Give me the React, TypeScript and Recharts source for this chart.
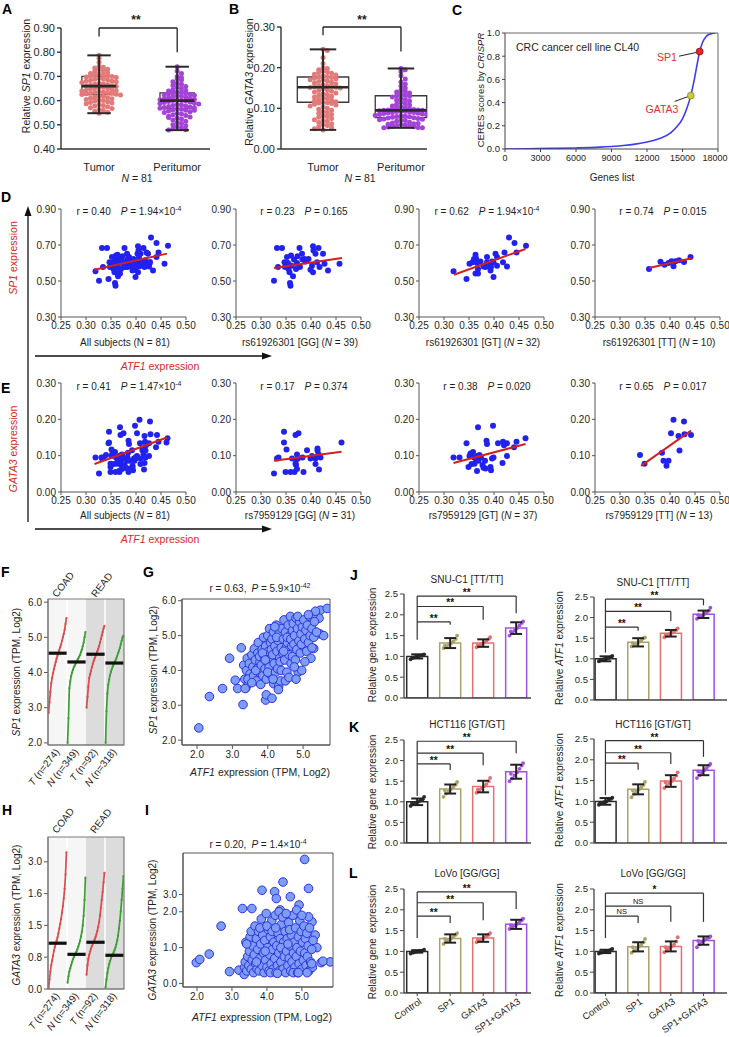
import React from 'react';
import {
  ScatterChart, Scatter, ComposedChart, Bar, Cell, LineChart, Line,
  XAxis, YAxis, ReferenceLine, ReferenceArea, ReferenceDot,
} from 'recharts';

const FONT = '"Liberation Sans", Arial, Helvetica, sans-serif';
const INK = '#1e1e1e';
const RED = '#d42a2a';

// ---------- A / B : relative expression, tumor vs peritumor (N = 81) ----------
const A_TUMOR = [
  0.787, 0.775, 0.758, 0.742, 0.738, 0.735, 0.73, 0.728, 0.722, 0.72,
  0.715, 0.712, 0.71, 0.706, 0.705, 0.703, 0.7, 0.7, 0.698, 0.695,
  0.692, 0.69, 0.688, 0.685, 0.683, 0.68, 0.68, 0.678, 0.675, 0.672,
  0.67, 0.668, 0.665, 0.663, 0.66, 0.66, 0.658, 0.656, 0.655, 0.652,
  0.65, 0.648, 0.645, 0.643, 0.64, 0.64, 0.638, 0.636, 0.634, 0.632,
  0.63, 0.63, 0.628, 0.626, 0.625, 0.623, 0.62, 0.618, 0.615, 0.612,
  0.61, 0.608, 0.605, 0.602, 0.6, 0.598, 0.595, 0.592, 0.59, 0.587,
  0.584, 0.58, 0.578, 0.575, 0.57, 0.567, 0.563, 0.56, 0.556, 0.552, 0.548,
];
const A_PERI = [
  0.74, 0.722, 0.712, 0.7, 0.695, 0.69, 0.685, 0.678, 0.672, 0.668,
  0.662, 0.658, 0.655, 0.65, 0.645, 0.642, 0.64, 0.636, 0.634, 0.632,
  0.63, 0.628, 0.626, 0.624, 0.622, 0.62, 0.618, 0.616, 0.614, 0.612,
  0.61, 0.608, 0.606, 0.604, 0.602, 0.6, 0.6, 0.598, 0.596, 0.594,
  0.592, 0.59, 0.588, 0.586, 0.584, 0.582, 0.58, 0.578, 0.576, 0.574,
  0.572, 0.57, 0.568, 0.566, 0.564, 0.562, 0.56, 0.557, 0.554, 0.551,
  0.548, 0.545, 0.542, 0.538, 0.535, 0.532, 0.528, 0.524, 0.52, 0.515,
  0.51, 0.505, 0.5, 0.496, 0.492, 0.488, 0.484, 0.48, 0.478, 0.53, 0.56,
];
const B_TUMOR = [
  0.245, 0.242, 0.225, 0.21, 0.2, 0.198, 0.195, 0.192, 0.19, 0.188,
  0.186, 0.184, 0.182, 0.18, 0.178, 0.177, 0.176, 0.174, 0.172, 0.17,
  0.168, 0.166, 0.164, 0.162, 0.16, 0.158, 0.156, 0.155, 0.154, 0.153,
  0.152, 0.151, 0.15, 0.148, 0.146, 0.144, 0.142, 0.14, 0.138, 0.136,
  0.134, 0.132, 0.13, 0.128, 0.126, 0.124, 0.122, 0.12, 0.118, 0.116,
  0.115, 0.114, 0.113, 0.112, 0.11, 0.108, 0.106, 0.104, 0.1, 0.098,
  0.095, 0.092, 0.09, 0.088, 0.085, 0.082, 0.08, 0.078, 0.075, 0.072,
  0.07, 0.068, 0.065, 0.062, 0.06, 0.058, 0.055, 0.052, 0.05, 0.047, 0.17,
];
const B_PERI = [
  0.198, 0.195, 0.19, 0.18, 0.172, 0.165, 0.16, 0.155, 0.15, 0.145,
  0.142, 0.14, 0.138, 0.135, 0.133, 0.131, 0.13, 0.128, 0.125, 0.122,
  0.12, 0.118, 0.115, 0.112, 0.11, 0.108, 0.106, 0.104, 0.102, 0.1,
  0.099, 0.098, 0.097, 0.096, 0.096, 0.095, 0.095, 0.094, 0.094, 0.093,
  0.093, 0.092, 0.091, 0.09, 0.09, 0.089, 0.088, 0.087, 0.086, 0.085,
  0.084, 0.083, 0.082, 0.081, 0.08, 0.079, 0.078, 0.077, 0.076, 0.075,
  0.074, 0.073, 0.072, 0.071, 0.07, 0.068, 0.066, 0.064, 0.062, 0.06,
  0.059, 0.058, 0.057, 0.056, 0.055, 0.054, 0.053, 0.052, 0.052, 0.061, 0.063,
];
// min, q1, median, q3, max
const A_STATS = [[0.548, 0.625, 0.66, 0.7, 0.787], [0.478, 0.567, 0.6, 0.632, 0.74]];
const B_STATS = [[0.047, 0.115, 0.152, 0.177, 0.245], [0.052, 0.077, 0.095, 0.131, 0.198]];
const GROUP_NAMES = ['Tumor', 'Peritumor'];

// ---------- C : CERES score curve ----------
const C_RANK = [0, 2000, 4000, 6000, 8000, 9000, 10000, 11000, 12000, 13000, 14000, 14500, 15000, 15400, 15700, 16000, 16200, 16450, 16700, 17000, 17300, 17600, 17800];
const C_SCORE = [0, 0.002, 0.005, 0.009, 0.016, 0.022, 0.03, 0.042, 0.06, 0.088, 0.14, 0.19, 0.26, 0.36, 0.46, 0.6, 0.71, 0.84, 0.92, 0.97, 0.99, 0.998, 1.0];
const C_TICKS = [0, 3000, 6000, 9000, 12000, 15000, 18000];
const C_SP1 = [16450, 0.84];
const C_GATA3 = [15700, 0.46];

// ---------- D : SP1 vs ATF1 by rs61926301 genotype ----------
const D_GG = [
  [0.326, 0.502], [0.332, 0.683], [0.342, 0.683], [0.348, 0.578], [0.352, 0.633], [0.354, 0.6], [0.355, 0.567], [0.357, 0.548],
  [0.358, 0.489], [0.359, 0.474], [0.361, 0.585], [0.364, 0.526], [0.366, 0.619], [0.37, 0.567], [0.372, 0.6], [0.373, 0.637],
  [0.377, 0.683], [0.383, 0.619], [0.387, 0.622], [0.389, 0.609], [0.402, 0.585], [0.404, 0.548], [0.405, 0.67], [0.409, 0.652],
  [0.412, 0.604], [0.415, 0.683], [0.417, 0.578], [0.424, 0.652], [0.427, 0.596], [0.434, 0.559], [0.457, 0.596], [0.347, 0.604],
  [0.334, 0.578], [0.378, 0.578], [0.395, 0.622], [0.382, 0.652], [0.36, 0.641], [0.399, 0.563], [0.404, 0.693],
];
const D_GT = [
  [0.319, 0.554], [0.345, 0.511], [0.351, 0.596], [0.357, 0.604], [0.36, 0.622], [0.363, 0.646], [0.364, 0.627], [0.366, 0.6],
  [0.363, 0.541], [0.368, 0.541], [0.368, 0.567], [0.386, 0.633], [0.386, 0.604], [0.379, 0.581], [0.383, 0.578], [0.389, 0.585],
  [0.393, 0.559], [0.394, 0.578], [0.399, 0.604], [0.399, 0.522], [0.403, 0.652], [0.406, 0.633], [0.406, 0.585], [0.418, 0.604],
  [0.421, 0.659], [0.426, 0.581], [0.43, 0.741], [0.441, 0.711], [0.445, 0.659], [0.464, 0.696], [0.396, 0.609], [0.373, 0.609],
];
const D_TT = [
  [0.358, 0.567], [0.381, 0.607], [0.389, 0.59], [0.397, 0.6], [0.403, 0.61], [0.407, 0.582], [0.411, 0.61], [0.418, 0.615], [0.428, 0.606], [0.441, 0.633],
];
const D_FIT = [[0.317, 0.563, 0.462, 0.652], [0.326, 0.572, 0.462, 0.628], [0.32, 0.535, 0.463, 0.678], [0.358, 0.572, 0.443, 0.626]];
const D_R = ['0.40', '0.23', '0.62', '0.74'];
const D_P = [['1.94×10', '-4'], ['0.165', ''], ['1.94×10', '-4'], ['0.015', '']];
const D_SUB = ['All subjects', 'rs61926301 [GG]', 'rs61926301 [GT]', 'rs61926301 [TT]'];
const D_N = [81, 39, 32, 10];

// ---------- E : GATA3 vs ATF1 by rs7959129 genotype ----------
const E_GG = [
  [0.326, 0.051], [0.332, 0.092], [0.335, 0.095], [0.346, 0.166], [0.346, 0.136], [0.351, 0.117], [0.349, 0.055], [0.362, 0.092],
  [0.359, 0.055], [0.367, 0.055], [0.369, 0.157], [0.375, 0.162], [0.372, 0.103], [0.37, 0.088], [0.37, 0.074], [0.372, 0.063],
  [0.385, 0.055], [0.392, 0.115], [0.399, 0.092], [0.413, 0.12], [0.413, 0.114], [0.415, 0.104], [0.409, 0.092], [0.409, 0.077],
  [0.416, 0.062], [0.419, 0.095], [0.461, 0.136], [0.369, 0.078], [0.383, 0.095], [0.374, 0.092], [0.402, 0.099],
];
const E_GT = [
  [0.319, 0.095], [0.331, 0.095], [0.345, 0.134], [0.349, 0.069], [0.351, 0.099], [0.353, 0.106], [0.355, 0.077], [0.358, 0.11],
  [0.36, 0.095], [0.361, 0.078], [0.364, 0.09], [0.366, 0.099], [0.366, 0.058], [0.368, 0.178], [0.369, 0.086], [0.374, 0.095],
  [0.377, 0.074], [0.379, 0.067], [0.382, 0.086], [0.383, 0.065], [0.385, 0.141], [0.386, 0.132], [0.393, 0.069], [0.394, 0.06],
  [0.396, 0.092], [0.398, 0.182], [0.399, 0.095], [0.408, 0.134], [0.418, 0.138], [0.42, 0.129], [0.426, 0.134], [0.417, 0.08],
  [0.426, 0.099], [0.44, 0.123], [0.445, 0.138], [0.463, 0.148], [0.371, 0.102],
];
const E_TT = [
  [0.34, 0.102], [0.349, 0.078], [0.384, 0.108], [0.387, 0.086], [0.393, 0.072], [0.397, 0.086], [0.402, 0.162],
  [0.407, 0.199], [0.417, 0.154], [0.419, 0.114], [0.428, 0.194], [0.429, 0.159], [0.442, 0.157],
];
const E_FIT = [[0.317, 0.077, 0.462, 0.15], [0.326, 0.086, 0.461, 0.111], [0.319, 0.08, 0.463, 0.132], [0.342, 0.072, 0.442, 0.169]];
const E_R = ['0.41', '0.17', '0.38', '0.65'];
const E_P = [['1.47×10', '-4'], ['0.374', ''], ['0.020', ''], ['0.017', '']];
const E_SUB = ['All subjects', 'rs7959129 [GG]', 'rs7959129 [GT]', 'rs7959129 [TT]'];
const E_N = [81, 31, 37, 13];

// ---------- F / H : TCGA expression, sorted per group ----------
const STRIP_COLS = ['T (n=274)', 'N (n=349)', 'T (n=92)', 'N (n=318)'];
const F_T_COAD = [2.85, 3.15, 3.45, 3.7, 3.85, 3.98, 4.1, 4.2, 4.3, 4.4, 4.48, 4.56, 4.64, 4.72, 4.8, 4.9, 5.0, 5.1, 5.22, 5.38, 5.55];
const F_N_COAD = [2.0, 2.7, 3.55, 3.75, 3.9, 4.0, 4.08, 4.15, 4.2, 4.25, 4.3, 4.35, 4.4, 4.45, 4.5, 4.58, 4.65, 4.75, 4.85, 5.0, 5.15];
const F_T_READ = [3.0, 3.3, 3.6, 3.85, 3.95, 4.05, 4.15, 4.25, 4.33, 4.4, 4.47, 4.53, 4.6, 4.67, 4.75, 4.85, 4.95, 5.05, 5.15, 5.25, 5.33];
const F_N_READ = [2.0, 2.9, 3.4, 3.65, 3.8, 3.92, 4.02, 4.1, 4.17, 4.23, 4.28, 4.34, 4.4, 4.47, 4.55, 4.62, 4.7, 4.8, 4.9, 5.0, 5.05];
const F_MED = [4.55, 4.3, 4.52, 4.27];
// H axis is drawn in plotted units; labels as printed
const H_TICK_LABELS = ['0.0', '0.8', '1.5', '1.6', '3.0'];
const H_T_COAD = [0.0, 0.3, 0.55, 0.75, 0.9, 1.05, 1.2, 1.32, 1.42, 1.52, 1.62, 1.75, 1.9, 2.05, 2.2, 2.4, 2.6, 2.85, 3.15, 3.6, 4.3];
const H_N_COAD = [0.2, 0.4, 0.55, 0.65, 0.75, 0.85, 0.93, 1.0, 1.06, 1.12, 1.18, 1.25, 1.33, 1.42, 1.52, 1.65, 1.8, 2.0, 2.3, 2.8, 3.5];
const H_T_READ = [0.45, 0.75, 0.95, 1.08, 1.18, 1.27, 1.35, 1.42, 1.48, 1.55, 1.63, 1.72, 1.82, 1.95, 2.1, 2.3, 2.55, 2.8, 3.05, 3.35, 3.65];
const H_N_READ = [0.05, 0.3, 0.5, 0.65, 0.78, 0.88, 0.96, 1.03, 1.09, 1.15, 1.22, 1.3, 1.4, 1.52, 1.68, 1.9, 2.15, 2.45, 2.8, 3.15, 3.55];
const H_MED = [1.44, 1.09, 1.47, 1.06];

// ---------- G : SP1 vs ATF1 (TCGA) ----------
const G_PTS = [
  [2.05, 2.35], [2.35, 3.25], [2.72, 3.48], [2.92, 4.35], [3.08, 3.72], [3.15, 3.48], [3.3, 3.02], [3.25, 4.65], [3.94, 3.15], [4.17, 3.62],
  [4.31, 3.55], [5.47, 5.05], [5.58, 5.0], [5.49, 5.73], [5.68, 5.78], [5.3, 4.63], [5.45, 5.5],
  [3.32, 4.15], [3.35, 3.75], [3.38, 3.5], [3.4, 4.0], [3.42, 4.35], [3.45, 3.62], [3.48, 4.2], [3.5, 3.9], [3.36, 3.48], [3.44, 3.75],
  [3.55, 4.45], [3.58, 4.1], [3.6, 3.85], [3.62, 4.62], [3.65, 4.3], [3.68, 3.7], [3.7, 4.05], [3.72, 4.5], [3.75, 3.95], [3.78, 4.25],
  [3.55, 3.65], [3.66, 4.0], [3.73, 4.8], [3.77, 4.4], [3.8, 3.6],
  [3.82, 4.15], [3.84, 4.6], [3.86, 3.85], [3.88, 4.95], [3.9, 4.4], [3.92, 4.05], [3.94, 4.7], [3.96, 3.75], [3.98, 4.25], [4.0, 5.0],
  [4.02, 4.55], [4.04, 4.1], [4.06, 3.9], [4.08, 4.8], [4.1, 4.35], [3.85, 4.5], [3.93, 4.3], [4.0, 3.95], [4.05, 5.2], [4.1, 4.6], [3.96, 3.3], [4.12, 3.2],
  [4.12, 4.9], [4.14, 4.45], [4.16, 5.1], [4.18, 4.2], [4.2, 4.7], [4.22, 3.95], [4.24, 5.3], [4.26, 4.55], [4.28, 4.05], [4.3, 4.85],
  [4.32, 5.05], [4.34, 4.35], [4.36, 3.7], [4.38, 4.65], [4.4, 5.2], [4.15, 3.75], [4.25, 4.95], [4.3, 3.45], [4.35, 4.25], [4.2, 5.25], [4.38, 4.0], [4.42, 4.5],
  [4.44, 4.9], [4.46, 5.45], [4.48, 4.3], [4.5, 5.1], [4.52, 4.65], [4.54, 3.95], [4.56, 4.8], [4.58, 5.3], [4.6, 4.45], [4.62, 5.0],
  [4.64, 5.55], [4.66, 4.2], [4.68, 4.7], [4.7, 5.15], [4.5, 3.7], [4.6, 3.8], [4.55, 4.95], [4.65, 4.9], [4.45, 4.55], [4.7, 4.4],
  [4.72, 5.35], [4.74, 4.75], [4.76, 5.0], [4.78, 4.3], [4.8, 5.5], [4.82, 4.6], [4.84, 5.2], [4.86, 3.95], [4.88, 4.85], [4.9, 5.4],
  [4.92, 4.5], [4.94, 5.05], [4.96, 4.0], [4.98, 5.25], [5.0, 4.7], [4.75, 4.1], [4.85, 5.55], [4.95, 4.75], [4.8, 3.75],
  [5.02, 5.45], [5.05, 4.9], [5.08, 5.15], [5.1, 4.55], [5.12, 5.3], [5.15, 4.8], [5.18, 5.55], [5.2, 5.0], [5.22, 4.35], [5.25, 5.2],
  [5.28, 5.6], [5.3, 4.95], [5.32, 5.4], [5.35, 5.7], [5.38, 5.1], [5.05, 4.25], [5.15, 5.6], [5.25, 4.65],
];

// ---------- I : GATA3 vs ATF1 (TCGA), y in plotted units ----------
const I_TICKS = [0, 1, 2, 2.48];
const I_TICK_LABELS = ['0.0', '1.0', '2.0', '3.0'];
const I_PTS = [
  [1.98, 0.58], [2.08, 0.67], [2.35, 0.82], [2.69, 1.6], [2.93, 0.33], [3.2, 0.37], [3.3, 2.09], [3.86, 2.6], [4.22, 2.56], [4.27, 2.37],
  [4.46, 2.83], [4.67, 2.42], [5.08, 3.46], [5.19, 2.65], [5.81, 0.6], [5.55, 0.58], [5.6, 0.62], [5.43, 1.0], [5.38, 1.35], [5.29, 1.72],
  [5.19, 1.86], [4.92, 2.19], [4.57, 1.86], [4.38, 2.05], [3.57, 2.09],
  [3.35, 0.25], [3.36, 0.45], [3.38, 0.6], [3.4, 1.15], [3.42, 0.35], [3.45, 0.75], [3.48, 0.5], [3.5, 0.9], [3.52, 1.3], [3.55, 0.4],
  [3.58, 0.65], [3.6, 1.05], [3.42, 1.1], [3.55, 1.45],
  [3.62, 0.3], [3.64, 0.8], [3.66, 1.6], [3.68, 0.55], [3.7, 1.25], [3.72, 0.4], [3.74, 0.95], [3.76, 1.45], [3.78, 0.35], [3.8, 0.7],
  [3.82, 1.1], [3.84, 1.8], [3.86, 0.5], [3.88, 1.35], [3.9, 0.85], [3.7, 0.6], [3.8, 1.55],
  [3.92, 0.3], [3.94, 1.2], [3.96, 0.65], [3.98, 1.95], [4.0, 0.45], [4.02, 1.0], [4.04, 1.5], [4.06, 0.35], [4.08, 0.8], [4.1, 1.3],
  [4.12, 0.55], [4.14, 1.75], [4.16, 0.95], [4.18, 0.4], [4.2, 1.15], [4.0, 1.6], [4.1, 0.3], [3.95, 0.9], [4.15, 1.45],
  [4.22, 0.7], [4.24, 1.9], [4.26, 0.3], [4.28, 1.05], [4.3, 0.5], [4.32, 1.4], [4.34, 0.85], [4.36, 0.35], [4.38, 1.25], [4.4, 0.6],
  [4.42, 1.65], [4.44, 0.95], [4.46, 0.4], [4.48, 1.15], [4.5, 0.75], [4.25, 1.55], [4.35, 2.0], [4.45, 1.85], [4.3, 0.28], [4.4, 1.0],
  [4.52, 1.45], [4.54, 0.3], [4.56, 0.9], [4.58, 1.25], [4.6, 0.5], [4.62, 1.7], [4.64, 0.7], [4.66, 1.05], [4.68, 0.35], [4.7, 1.35],
  [4.72, 0.6], [4.74, 1.9], [4.76, 0.85], [4.78, 1.15], [4.8, 0.45], [4.55, 1.95], [4.65, 1.5], [4.75, 0.3], [4.6, 1.1],
  [4.82, 1.55], [4.84, 0.75], [4.86, 1.0], [4.88, 0.3], [4.9, 1.3], [4.92, 0.55], [4.94, 1.75], [4.96, 0.9], [4.98, 1.45], [5.0, 0.4],
  [5.02, 1.15], [5.04, 0.65], [5.06, 1.6], [5.08, 0.85], [4.85, 2.05], [5.0, 1.9], [4.9, 0.3], [5.1, 1.25],
  [5.12, 0.5], [5.14, 1.4], [5.16, 0.75], [5.18, 1.05], [5.2, 0.35], [5.22, 1.55], [5.25, 0.6], [5.28, 0.95], [5.3, 0.45], [5.32, 1.2],
  [5.15, 0.3], [5.28, 0.55],
];

// ---------- J / K / L : overexpression experiments ----------
const TREAT = ['Control', 'SP1', 'GATA3', 'SP1+GATA3'];
const TREAT_COLORS = ['#2a2a2a', '#aaa26c', '#e57070', '#a54fe0'];
const J_GENE_MEAN = [1.0, 1.32, 1.32, 1.68];
const J_GENE_SD = [0.05, 0.12, 0.09, 0.14];
const J_GENE_DOTS = [
  [0.93, 0.97, 0.99, 1.0, 1.02, 1.03, 1.05, 0.96],
  [1.2, 1.23, 1.28, 1.32, 1.36, 1.42, 1.5, 1.26],
  [1.22, 1.26, 1.3, 1.33, 1.37, 1.42, 1.46, 1.28],
  [1.5, 1.56, 1.62, 1.68, 1.74, 1.8, 1.84, 1.6],
];
const J_ATF_MEAN = [1.0, 1.4, 1.62, 2.08];
const J_ATF_SD = [0.06, 0.1, 0.08, 0.09];
const J_ATF_DOTS = [
  [0.94, 0.97, 0.99, 1.0, 1.02, 1.04, 1.07, 0.96],
  [1.3, 1.33, 1.37, 1.41, 1.45, 1.5, 1.52, 1.38],
  [1.52, 1.56, 1.6, 1.63, 1.66, 1.7, 1.74, 1.58],
  [1.97, 2.01, 2.05, 2.09, 2.12, 2.17, 2.24, 2.06],
];
const K_GENE_MEAN = [1.0, 1.31, 1.37, 1.73];
const K_GENE_SD = [0.08, 0.11, 0.14, 0.17];
const K_GENE_DOTS = [
  [0.9, 0.95, 0.98, 1.0, 1.03, 1.06, 1.12, 0.97],
  [1.12, 1.2, 1.26, 1.31, 1.36, 1.42, 1.48, 1.28],
  [1.22, 1.28, 1.33, 1.38, 1.43, 1.5, 1.58, 1.3],
  [1.5, 1.57, 1.64, 1.72, 1.8, 1.88, 1.94, 1.68],
];
const K_ATF_MEAN = [1.0, 1.29, 1.49, 1.75];
const K_ATF_SD = [0.08, 0.12, 0.14, 0.12];
const K_ATF_DOTS = [
  [0.92, 0.96, 0.98, 1.0, 1.03, 1.06, 1.09, 0.97],
  [1.1, 1.18, 1.24, 1.29, 1.34, 1.4, 1.47, 1.26],
  [1.32, 1.38, 1.44, 1.49, 1.55, 1.62, 1.7, 1.46],
  [1.56, 1.63, 1.7, 1.75, 1.8, 1.86, 1.9, 1.72],
];
const L_GENE_MEAN = [1.0, 1.31, 1.32, 1.65];
const L_GENE_SD = [0.03, 0.1, 0.09, 0.11];
const L_GENE_DOTS = [
  [0.95, 0.97, 0.99, 1.0, 1.01, 1.02, 1.04, 0.98],
  [1.18, 1.24, 1.28, 1.31, 1.35, 1.4, 1.44, 1.3],
  [1.22, 1.26, 1.3, 1.33, 1.36, 1.4, 1.44, 1.29],
  [1.54, 1.58, 1.62, 1.66, 1.7, 1.75, 1.79, 1.63],
];
const L_ATF_MEAN = [1.0, 1.11, 1.12, 1.26];
const L_ATF_SD = [0.04, 0.11, 0.12, 0.1];
const L_ATF_DOTS = [
  [0.95, 0.97, 0.99, 1.0, 1.02, 1.04, 1.06, 0.98],
  [0.97, 1.02, 1.08, 1.12, 1.16, 1.22, 1.3, 1.1],
  [0.98, 1.04, 1.08, 1.12, 1.17, 1.24, 1.34, 1.1],
  [1.1, 1.17, 1.23, 1.27, 1.3, 1.33, 1.36, 1.25],
];
// [target group, bracket level, right leg end, label]
const J_GENE_BR = [[2, 1.83, 1.76, '**'], [3, 2.2, 1.88, '**'], [4, 2.45, 2.04, '**']];
const J_ATF_BR = [[2, 1.77, 1.68, '**'], [3, 2.15, 1.92, '**'], [4, 2.45, 2.3, '**']];
const K_GENE_BR = [[2, 1.92, 1.77, '**'], [3, 2.18, 1.89, '**'], [4, 2.47, 2.18, '**']];
const K_ATF_BR = [[2, 1.92, 1.76, '**'], [3, 2.17, 1.9, '**'], [4, 2.46, 2.07, '**']];
const L_GENE_BR = [[2, 1.85, 1.68, '**'], [3, 2.17, 1.75, '**'], [4, 2.43, 2.02, '**']];
const L_ATF_BR = [[2, 1.85, 1.68, 'NS'], [3, 2.09, 1.71, 'NS'], [4, 2.4, 1.71, '*']];

// ---------------------------------------------------------------------------

const tick = (size: number) => ({ fontSize: size, fill: INK, fontFamily: FONT });
const toPts = (a: number[][]) => a.map(([x, y]) => ({ x, y }));

// place a chart so that its plot area covers rect = [x0, y0, x1, y1] of the page
function frame(rect: number[], yw: number, xh: number, mt: number, mr: number) {
  const [x0, y0, x1, y1] = rect;
  return {
    style: { position: 'absolute' as const, left: x0 - yw, top: y0 - mt },
    width: yw + (x1 - x0) + mr,
    height: mt + (y1 - y0) + xh,
    margin: { top: mt, right: mr, bottom: 0, left: 0 },
  };
}

const dot = (r: number, fill: string, stroke = 'none', sw = 0) => (p: any) =>
  <circle cx={p.cx} cy={p.cy} r={r} fill={fill} stroke={stroke} strokeWidth={sw} />;

const seg = (key: string, x1: number, y1: number, x2: number, y2: number, stroke = '#222', w = 2, label?: any) => (
  <ReferenceLine key={key} segment={[{ x: x1, y: y1 }, { x: x2, y: y2 }]} stroke={stroke}
    strokeWidth={w} ifOverflow="visible" zIndex={800} label={label} />
);

// significance mark sitting on a bracket line
const BrLabel = ({ viewBox, t }: any) => {
  if (!viewBox) return null;
  const ns = t === 'NS';
  return (
    <text x={viewBox.x + viewBox.width / 2} y={viewBox.y - (ns ? 2.5 : 0)} textAnchor="middle"
      fontSize={ns ? 7.5 : 10} fontWeight={ns ? 'normal' : 'bold'} fill="#111" stroke="none"
      fontFamily={FONT}>{t}</text>
  );
};

// simple beeswarm: values in the same y bin fan out left/right
function swarm(vals: number[], center: number, bin: number, step: number) {
  const used: Record<number, number> = {};
  return vals.map((v) => {
    const k = Math.round(v / bin);
    const n = used[k] ?? 0;
    used[k] = n + 1;
    const off = n === 0 ? 0 : (n % 2 ? 1 : -1) * Math.ceil(n / 2) * step;
    return { x: center + off, y: v };
  });
}

function BoxPanel({ rect, xDom, yDom, yTicks, groups, stats, half, cap, bin, bracket }: any) {
  const f = frame(rect, 46, 26, 14, 4);
  const colors = ['#e27a7a', '#a443d8'];
  return (
    <div style={f.style}>
      <ScatterChart width={f.width} height={f.height} margin={f.margin}>
        <XAxis type="number" dataKey="x" domain={xDom} ticks={[1, 2]} allowDataOverflow height={26}
          tickFormatter={(v: number) => GROUP_NAMES[v - 1]} tick={tick(11)} tickLine={false}
          tickMargin={8} axisLine={{ stroke: '#333', strokeWidth: 1.4 }} interval={0} />
        <YAxis type="number" dataKey="y" domain={yDom} ticks={yTicks} allowDataOverflow width={46}
          tickFormatter={(v: number) => v.toFixed(2)} tick={tick(11)} tickSize={4} tickMargin={2}
          axisLine={{ stroke: '#333', strokeWidth: 1.4 }} tickLine={{ stroke: '#333', strokeWidth: 1.4 }} interval={0} />
        {stats.map((s: number[], i: number) => (
          <ReferenceArea key={'b' + i} x1={i + 1 - half} x2={i + 1 + half} y1={s[1]} y2={s[3]}
            fill="none" stroke="#3a3a3a" strokeWidth={1.3} ifOverflow="visible" />
        ))}
        {groups.map((g: number[], i: number) => (
          <Scatter key={'s' + i} data={swarm(g, i + 1, bin, 0.055)} isAnimationActive={false}
            shape={dot(2.5, colors[i])} />
        ))}
        {stats.flatMap((s: number[], i: number) => {
          const c = i + 1;
          return [
            seg('w' + i, c, s[0], c, s[4], '#2a2a2a', 2),
            seg('lo' + i, c - cap, s[0], c + cap, s[0], '#2a2a2a', 2),
            seg('hi' + i, c - cap, s[4], c + cap, s[4], '#2a2a2a', 2),
            seg('m' + i, c - half, s[2], c + half, s[2], '#2a2a2a', 2.6),
          ];
        })}
        {seg('br1', 1, bracket[1], 1, bracket[0], '#222', 1.3)}
        {seg('br2', 1, bracket[0], 2, bracket[0], '#222', 1.3)}
        {seg('br3', 2, bracket[0], 2, bracket[2], '#222', 1.3)}
      </ScatterChart>
    </div>
  );
}

function CurvePanel() {
  const f = frame([505, 33, 718, 149], 26, 22, 6, 11);
  const data = C_RANK.map((x, i) => ({ x, y: C_SCORE[i] }));
  // the last label sits against the page edge, nudge it inwards a little
  const CTick = (p: any) => (
    <text x={p.x - (p.payload.value === 18000 ? 3 : 0)} y={p.y} dy="0.71em" textAnchor="middle"
      fontSize={9} fill={INK} fontFamily={FONT}>{p.payload.value}</text>
  );
  return (
    <div style={f.style}>
      <LineChart width={f.width} height={f.height} margin={f.margin} data={data}>
        <XAxis type="number" dataKey="x" domain={[0, 18000]} ticks={C_TICKS}
          allowDataOverflow height={22} tick={CTick} tickSize={3} tickMargin={3} interval={0}
          axisLine={{ stroke: '#444' }} tickLine={{ stroke: '#444' }} />
        <YAxis type="number" domain={[0, 1]} ticks={[0, 0.2, 0.4, 0.6, 0.8, 1]} allowDataOverflow width={26}
          tickFormatter={(v: number) => v.toFixed(1)} tick={tick(9.5)} tickSize={3} tickMargin={2} interval={0}
          axisLine={{ stroke: '#444' }} tickLine={{ stroke: '#444' }} />
        <ReferenceLine y={1} stroke="#666" ifOverflow="visible" />
        <ReferenceLine x={18000} stroke="#666" ifOverflow="visible" />
        <Line type="monotone" dataKey="y" stroke="#3d3df2" strokeWidth={1.6} dot={false} isAnimationActive={false} />
        {seg('l1', 14710, 0.8, 16300, 0.835, '#222', 1)}
        {seg('l2', 14340, 0.41, 15550, 0.455, '#222', 1)}
        <ReferenceDot x={C_SP1[0]} y={C_SP1[1]} r={3.4} fill="#e02828" stroke="#a31616" zIndex={900} />
        <ReferenceDot x={C_GATA3[0]} y={C_GATA3[1]} r={3.4} fill="#cccb3c" stroke="#9a9a22" zIndex={900} />
      </LineChart>
    </div>
  );
}

function CorrPanel({ rect, yDom, yTicks, pts, fit }: any) {
  const f = frame(rect, 34, 20, 8, 16);
  return (
    <div style={f.style}>
      <ScatterChart width={f.width} height={f.height} margin={f.margin}>
        <XAxis type="number" dataKey="x" domain={[0.25, 0.5]} ticks={[0.25, 0.3, 0.35, 0.4, 0.45, 0.5]}
          allowDataOverflow height={20} tickFormatter={(v: number) => v.toFixed(2)} tick={tick(10)}
          tickSize={3} tickMargin={2} interval={0} axisLine={{ stroke: '#555' }} tickLine={{ stroke: '#555' }} />
        <YAxis type="number" dataKey="y" domain={yDom} ticks={yTicks} allowDataOverflow width={34}
          tickFormatter={(v: number) => v.toFixed(2)} tick={tick(10)} tickSize={3} tickMargin={2} interval={0}
          axisLine={{ stroke: '#555' }} tickLine={{ stroke: '#555' }} />
        <Scatter data={toPts(pts)} isAnimationActive={false} shape={dot(3, '#2222ee')} />
        {seg('fit', fit[0], fit[1], fit[2], fit[3], '#d42020', 2)}
      </ScatterChart>
    </div>
  );
}

function StripPanel({ rect, yDom, yTicks, fmt, groups, med }: any) {
  const f = frame(rect, 28, 6, 4, 4);
  const colors = ['#dd4b4b', '#3c9f32', '#dd4b4b', '#3c9f32'];
  return (
    <div style={f.style}>
      <ScatterChart width={f.width} height={f.height} margin={f.margin}>
        <XAxis type="number" dataKey="x" domain={[0, 4]} allowDataOverflow height={6} tick={false}
          axisLine={{ stroke: '#777' }} />
        <YAxis type="number" dataKey="y" domain={yDom} ticks={yTicks} allowDataOverflow width={28}
          tickFormatter={fmt} tick={tick(10)} tickSize={4} tickMargin={2} interval={0}
          axisLine={{ stroke: '#777' }} tickLine={{ stroke: '#555' }} />
        <ReferenceArea x1={0} x2={2} y1={yDom[0]} y2={yDom[1]} fill="#f6f6f6" fillOpacity={1} stroke="none" />
        <ReferenceArea x1={2} x2={4} y1={yDom[0]} y2={yDom[1]} fill="#dcdcdc" fillOpacity={1} stroke="none" />
        <ReferenceLine x={1} stroke="#fff" strokeWidth={1.5} />
        <ReferenceLine x={3} stroke="#fff" strokeWidth={1.5} />
        {groups.map((g: number[], i: number) => (
          <Scatter key={i} isAnimationActive={false}
            data={g.map((v, j) => ({ x: i + 0.03 + (0.94 * j) / (g.length - 1), y: v }))}
            line={{ stroke: colors[i], strokeWidth: 1.7 }} shape={dot(1.1, colors[i])} />
        ))}
        {med.map((m: number, i: number) => seg('m' + i, i + 0.02, m, i + 0.98, m, '#111', 3.2))}
        <ReferenceArea x1={0} x2={4} y1={yDom[0]} y2={yDom[1]} fill="none" stroke="#7a7a7a" strokeWidth={1.2}
          ifOverflow="visible" zIndex={900} />
      </ScatterChart>
    </div>
  );
}

function CloudPanel({ rect, xDom, yDom, yTicks, yFmt, pts }: any) {
  const f = frame(rect, 26, 20, 6, 6);
  return (
    <div style={f.style}>
      <ScatterChart width={f.width} height={f.height} margin={f.margin}>
        <XAxis type="number" dataKey="x" domain={xDom} ticks={[2, 3, 4, 5]} allowDataOverflow height={20}
          tickFormatter={(v: number) => v.toFixed(1)} tick={tick(10)} tickSize={4} tickMargin={2} interval={0}
          axisLine={{ stroke: '#555' }} tickLine={{ stroke: '#555' }} />
        <YAxis type="number" dataKey="y" domain={yDom} ticks={yTicks} allowDataOverflow width={26}
          tickFormatter={yFmt} tick={tick(10)} tickSize={4} tickMargin={2} interval={0}
          axisLine={{ stroke: '#555' }} tickLine={{ stroke: '#555' }} />
        <Scatter data={toPts(pts)} isAnimationActive={false} shape={dot(4.3, '#7d9ef6', '#3030dd', 1)} />
        <ReferenceArea x1={xDom[0]} x2={xDom[1]} y1={yDom[0]} y2={yDom[1]} fill="none" stroke="#555"
          strokeWidth={1} ifOverflow="visible" zIndex={900} />
      </ScatterChart>
    </div>
  );
}

const JIT = [-0.2, -0.12, -0.05, 0.03, 0.1, 0.17, 0.21, -0.16];

function BarPanel({ rect, xDom, mean, sd, dots, br, leg, labels }: any) {
  const f = frame(rect, 30, labels ? 44 : 10, 8, 4);
  const data = mean.map((m: number, i: number) => ({ x: i + 1, m }));
  const top = Math.max(...br.map((b: any) => b[1]));
  const RotTick = (p: any) => (
    <text x={p.x + 5} y={p.y + 5} textAnchor="end" fontSize={9.5} fill={INK} fontFamily={FONT}
      transform={`rotate(-35 ${p.x + 5} ${p.y + 5})`}>{TREAT[p.payload.value - 1]}</text>
  );
  return (
    <div style={f.style}>
      <ComposedChart width={f.width} height={f.height} margin={f.margin} data={data}>
        <XAxis type="number" dataKey="x" domain={xDom} ticks={[1, 2, 3, 4]} allowDataOverflow
          height={labels ? 44 : 10} tick={labels ? RotTick : false} tickSize={3} interval={0}
          axisLine={{ stroke: '#444', strokeWidth: 1.3 }} tickLine={{ stroke: '#444' }} />
        {/* separate hidden axis for the jittered replicate dots so they do not shrink the bar band */}
        <XAxis xAxisId="dots" type="number" dataKey="x" domain={xDom} allowDataOverflow hide />
        <YAxis type="number" domain={[0, 2.5]} ticks={[0, 0.5, 1, 1.5, 2, 2.5]} allowDataOverflow width={30}
          tickFormatter={(v: number) => v.toFixed(1)} tick={tick(9.5)} tickSize={4} tickMargin={2} interval={0}
          axisLine={{ stroke: '#444', strokeWidth: 1.3 }} tickLine={{ stroke: '#444' }} />
        <Bar dataKey="m" barSize={21} fill="#fff" strokeWidth={1.5} isAnimationActive={false}>
          {data.map((_: any, i: number) => <Cell key={i} stroke={TREAT_COLORS[i]} fill="#fff" />)}
        </Bar>
        {dots.map((g: number[], i: number) => (
          <Scatter key={'d' + i} xAxisId="dots" data={g.map((v, j) => ({ x: i + 1 + JIT[j], y: v }))} dataKey="y"
            isAnimationActive={false} shape={dot(1.9, TREAT_COLORS[i])} />
        ))}
        {mean.flatMap((m: number, i: number) => {
          const c = i + 1;
          return [
            seg('e' + i, c, m - sd[i], c, m + sd[i], '#222', 2),
            seg('eh' + i, c - 0.18, m + sd[i], c + 0.18, m + sd[i], '#222', 2),
            seg('el' + i, c - 0.18, m - sd[i], c + 0.18, m - sd[i], '#222', 2),
          ];
        })}
        {seg('leg', 1, leg, 1, top, '#333', 1.2)}
        {br.flatMap((b: any, i: number) => [
          seg('h' + i, 1, b[1], b[0], b[1], '#333', 1.2, <BrLabel t={b[3]} />),
          seg('v' + i, b[0], b[1], b[0], b[2], '#333', 1.2),
        ])}
      </ComposedChart>
    </div>
  );
}

function Txt({ x, y, s = 10, a = 'middle', r = 0, c = INK, w, children }: any) {
  return (
    <text x={x} y={y} fontSize={s} textAnchor={a} fill={c} fontWeight={w}
      transform={r ? `rotate(${r} ${x} ${y})` : undefined}>{children}</text>
  );
}
const It = ({ children }: any) => <tspan fontStyle="italic">{children}</tspan>;

function Overlay() {
  const COL_X = [61, 236, 419, 595];
  const letters: [string, number, number][] = [
    ['A', 2, 14], ['B', 229, 14], ['C', 452, 15], ['D', 1, 202], ['E', 1, 393], ['F', 1, 577],
    ['G', 143, 577], ['H', 2, 815], ['I', 145, 815], ['J', 350, 580], ['K', 349, 732], ['L', 349, 878],
  ];
  return (
    <svg width={729} height={1037} style={{ position: 'absolute', left: 0, top: 0, pointerEvents: 'none' }}
      fontFamily={FONT}>
      {letters.map(([t, x, y]) => <Txt key={t} x={x} y={y} s={14} a="start" w="bold" c="#000">{t}</Txt>)}

      {/* A / B */}
      <Txt x={30} y={76} s={10.5} r={-90}>Relative <It>SP1</It> expression</Txt>
      <Txt x={253} y={82} s={10.5} r={-90}>Relative <It>GATA3</It> expression</Txt>
      <Txt x={136} y={24} s={12} w="bold">**</Txt>
      <Txt x={362} y={24} s={12} w="bold">**</Txt>
      <Txt x={137} y={182} s={10.5}><It>N</It> = 81</Txt>
      <Txt x={360} y={182} s={10.5}><It>N</It> = 81</Txt>

      {/* C */}
      <Txt x={484} y={90} s={9.5} r={-90}>CERES scores by <It>CRISPR</It></Txt>
      <Txt x={516} y={51} s={10.5} a="start">CRC cancer cell line CL40</Txt>
      <Txt x={667} y={61} s={10.5} c="#e03030">SP1</Txt>
      <Txt x={662} y={113} s={10.5} c="#e03030">GATA3</Txt>
      <Txt x={612} y={181} s={10}>Genes list</Txt>

      {/* D / E */}
      {COL_X.map((x, i) => (
        <g key={'d' + i}>
          <Txt x={x + 68} y={215} s={10}>r = {D_R[i]}{'\u2003'}<It>P</It> = {D_P[i][0]}
            {D_P[i][1] ? <tspan dy={-4} fontSize={7}>{D_P[i][1]}</tspan> : null}</Txt>
          <Txt x={x + 64} y={346} s={10}>{D_SUB[i]} ({i === 0 ? 'N' : <It>N</It>} = {D_N[i]})</Txt>
          <Txt x={x + 68} y={390} s={10}>r = {E_R[i]}{'\u2003'}<It>P</It> = {E_P[i][0]}
            {E_P[i][1] ? <tspan dy={-4} fontSize={7}>{E_P[i][1]}</tspan> : null}</Txt>
          <Txt x={x + 64} y={519} s={10}>{E_SUB[i]} (<It>N</It> = {E_N[i]})</Txt>
        </g>
      ))}
      <line x1={28} y1={522} x2={28} y2={214} stroke="#111" strokeWidth={1.3} />
      <polygon points="28,206 24.5,216 31.5,216" fill="#111" />
      <line x1={35} y1={356} x2={264} y2={356} stroke="#111" strokeWidth={1.3} />
      <polygon points="272,356 262,352.5 262,359.5" fill="#111" />
      <line x1={35} y1={529} x2={264} y2={529} stroke="#111" strokeWidth={1.3} />
      <polygon points="272,529 262,525.5 262,532.5" fill="#111" />
      <Txt x={160} y={370} s={10.5} c={RED}><It>ATF1</It> expression</Txt>
      <Txt x={160} y={543} s={10.5} c={RED}><It>ATF1</It> expression</Txt>
      <Txt x={17} y={258} s={10.5} r={-90} c={RED}><It>SP1</It> expression</Txt>
      <Txt x={17} y={449} s={10.5} r={-90} c={RED}><It>GATA3</It> expression</Txt>

      {/* F / H */}
      <Txt x={20} y={672} s={10} r={-90}><It>SP1</It> expression (TPM, Log2)</Txt>
      <Txt x={20} y={915} s={10} r={-90}><It>GATA3</It> expression (TPM, Log2)</Txt>
      <Txt x={57} y={598} s={10} a="start" r={-52}>COAD</Txt>
      <Txt x={96} y={598} s={10} a="start" r={-52}>READ</Txt>
      <Txt x={57} y={834} s={10} a="start" r={-52}>COAD</Txt>
      <Txt x={95} y={834} s={10} a="start" r={-52}>READ</Txt>
      {STRIP_COLS.map((t, i) => (
        <g key={'c' + i}>
          <Txt x={60 + i * 19} y={752} s={10} a="end" r={-52}><It>{t[0]}</It>{t.slice(1)}</Txt>
          <Txt x={60 + i * 19} y={996} s={10} a="end" r={-52}><It>{t[0]}</It>{t.slice(1)}</Txt>
        </g>
      ))}

      {/* G / I */}
      <Txt x={260} y={592} s={10}>r = 0.63,{'\u2002'}<It>P</It> = 5.9×10<tspan dy={-4} fontSize={7}>-42</tspan></Txt>
      <Txt x={260} y={776} s={10.5}><It>ATF1</It> expression (TPM, Log2)</Txt>
      <Txt x={157} y={670} s={10} r={-90}><It>SP1</It> expression (TPM, Log2)</Txt>
      <Txt x={258} y={848} s={10}>r = 0.20,{'\u2002'}<It>P</It> = 1.4×10<tspan dy={-4} fontSize={7}>-4</tspan></Txt>
      <Txt x={262} y={1021} s={10.5}><It>ATF1</It> expression (TPM, Log2)</Txt>
      <Txt x={156} y={930} s={10} r={-90}><It>GATA3</It> expression (TPM, Log2)</Txt>

      {/* J / K / L */}
      {[['SNU-C1 [TT/TT]', 583, 586, 645, 648], ['HCT116 [GT/GT]', 728, 728, 792, 790], ['LoVo [GG/GG]', 877, 877, 942, 940]].map(
        ([t, y1, y2, c1, c2]: any, i) => (
          <g key={'t' + i}>
            <Txt x={467} y={y1} s={10}>{t}</Txt>
            <Txt x={653} y={y2} s={10}>{t}</Txt>
            <Txt x={376} y={c1} s={10} r={-90}>Relative gene{'\u2002'}expression</Txt>
            <Txt x={563} y={c2} s={10} r={-90}>Relative <It>ATF1</It> expression</Txt>
          </g>
        ))}
    </svg>
  );
}

export default function App() {
  const fmt1 = (v: number) => v.toFixed(1);
  const iFmt = (v: number) => I_TICK_LABELS[I_TICKS.findIndex((t) => Math.abs(t - v) < 1e-6)] ?? '';
  return (
    <div style={{ position: 'absolute', left: 0, top: 0, width: 729, height: 1037, background: '#fff', fontFamily: FONT, overflow: 'hidden' }}>
      <BoxPanel rect={[61, 28, 210, 149]} xDom={[0.513, 2.42]} yDom={[0.4, 0.9]} yTicks={[0.4, 0.5, 0.6, 0.7, 0.8, 0.9]}
        groups={[A_TUMOR, A_PERI]} stats={A_STATS} half={0.22} cap={0.15} bin={0.018} bracket={[0.9, 0.865, 0.8]} />
      <BoxPanel rect={[281, 27, 427, 149]} xDom={[0.461, 2.334]} yDom={[0, 0.3]} yTicks={[0, 0.1, 0.2, 0.3]}
        groups={[B_TUMOR, B_PERI]} stats={B_STATS} half={0.33} cap={0.17} bin={0.011} bracket={[0.3, 0.28, 0.24]} />
      <CurvePanel />

      {[[...D_GG, ...D_GT, ...D_TT], D_GG, D_GT, D_TT].map((pts, i) => (
        <CorrPanel key={'D' + i} rect={[[61, 236, 419, 595][i], 209, [61, 236, 419, 595][i] + 125, 317]}
          yDom={[0.3, 0.9]} yTicks={[0.3, 0.5, 0.7, 0.9]} pts={pts} fit={D_FIT[i]} />
      ))}
      {[[...E_GG, ...E_GT, ...E_TT], E_GG, E_GT, E_TT].map((pts, i) => (
        <CorrPanel key={'E' + i} rect={[[61, 236, 419, 595][i], 383, [61, 236, 419, 595][i] + 125, 492]}
          yDom={[0, 0.3]} yTicks={[0, 0.1, 0.2, 0.3]} pts={pts} fit={E_FIT[i]} />
      ))}

      <StripPanel rect={[48, 599, 124, 745]} yDom={[1.94, 6.09]} yTicks={[2, 3, 4, 5, 6]} fmt={fmt1}
        groups={[F_T_COAD, F_N_COAD, F_T_READ, F_N_READ]} med={F_MED} />
      <StripPanel rect={[48, 837, 124, 989]} yDom={[0, 4.78]} yTicks={[0, 1, 2, 3, 4]}
        fmt={(v: number) => H_TICK_LABELS[v]} groups={[H_T_COAD, H_N_COAD, H_T_READ, H_N_READ]} med={H_MED} />

      <CloudPanel rect={[182, 599, 330, 745]} xDom={[1.575, 5.76]} yDom={[1.86, 6.05]} yTicks={[2, 3, 4, 5, 6]}
        yFmt={fmt1} pts={G_PTS} />
      <CloudPanel rect={[183, 853, 333, 987]} xDom={[1.6, 5.89]} yDom={[-0.1, 3.64]} yTicks={I_TICKS}
        yFmt={iFmt} pts={I_PTS} />

      <BarPanel rect={[404, 594, 531, 698]} xDom={[0.6, 4.45]} mean={J_GENE_MEAN} sd={J_GENE_SD} dots={J_GENE_DOTS} br={J_GENE_BR} leg={1.4} />
      <BarPanel rect={[594, 597, 727, 700]} xDom={[0.65, 4.72]} mean={J_ATF_MEAN} sd={J_ATF_SD} dots={J_ATF_DOTS} br={J_ATF_BR} leg={1.15} />
      <BarPanel rect={[404, 740, 531, 843]} xDom={[0.6, 4.45]} mean={K_GENE_MEAN} sd={K_GENE_SD} dots={K_GENE_DOTS} br={K_GENE_BR} leg={1.14} />
      <BarPanel rect={[594, 739, 727, 843]} xDom={[0.65, 4.72]} mean={K_ATF_MEAN} sd={K_ATF_SD} dots={K_ATF_DOTS} br={K_ATF_BR} leg={1.15} />
      <BarPanel rect={[404, 889, 531, 993]} xDom={[0.6, 4.45]} mean={L_GENE_MEAN} sd={L_GENE_SD} dots={L_GENE_DOTS} br={L_GENE_BR} leg={1.32} labels />
      <BarPanel rect={[594, 889, 727, 993]} xDom={[0.65, 4.72]} mean={L_ATF_MEAN} sd={L_ATF_SD} dots={L_ATF_DOTS} br={L_ATF_BR} leg={1.32} labels />

      <Overlay />
    </div>
  );
}
